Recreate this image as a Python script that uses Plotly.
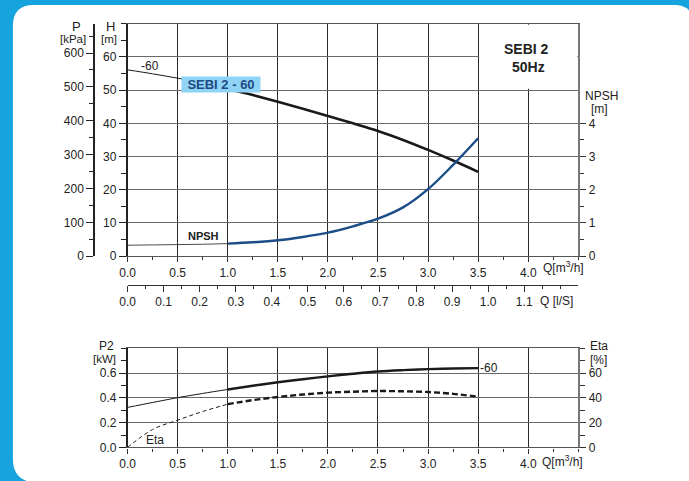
import plotly.graph_objects as go

W, HP = 689, 481

# ---------------- data ----------------
q = [0.0, 0.25, 0.5, 0.75, 1.0, 1.25, 1.5, 1.75, 2.0, 2.25, 2.5, 2.75, 3.0, 3.25, 3.5]
head_m = [56.1, 54.9, 53.6, 52.1, 50.4, 48.5, 46.5, 44.4, 42.2, 40.0, 37.7, 35.0, 32.0, 28.8, 25.4]
npsh_m = [0.33, 0.34, 0.35, 0.36, 0.38, 0.42, 0.48, 0.58, 0.71, 0.90, 1.13, 1.47, 2.02, 2.75, 3.55]
p2_kw = [0.323, 0.363, 0.402, 0.436, 0.468, 0.498, 0.526, 0.551, 0.574, 0.595, 0.613, 0.624, 0.632, 0.637, 0.640]
eta_pct = [0.0, 14.5, 22.0, 29.0, 34.9, 38.2, 40.7, 42.7, 44.2, 45.0, 45.5, 45.3, 44.7, 43.2, 41.0]

q_ticks = [0.0, 0.5, 1.0, 1.5, 2.0, 2.5, 3.0, 3.5, 4.0]
q_labels = ["0.0", "0.5", "1.0", "1.5", "2.0", "2.5", "3.0", "3.5", "4.0"]
ls_ticks = [0.0, 0.1, 0.2, 0.3, 0.4, 0.5, 0.6, 0.7, 0.8, 0.9, 1.0, 1.1]
ls_labels = ["0.0", "0.1", "0.2", "0.3", "0.4", "0.5", "0.6", "0.7", "0.8", "0.9", "1.0", "1.1"]
h_ticks = [0, 10, 20, 30, 40, 50, 60]
h_labels = ["0", "10", "20", "30", "40", "50", "60"]
p_ticks = [0, 100, 200, 300, 400, 500, 600]
p_labels = ["0", "100", "200", "300", "400", "500", "600"]
npsh_ticks = [0, 1, 2, 3, 4]
npsh_labels = ["0", "1", "2", "3", "4"]
p2_ticks = [0.0, 0.2, 0.4, 0.6]
p2_labels = ["0.0", "0.2", "0.4", "0.6"]
eta_ticks = [0, 20, 40, 60]
eta_labels = ["0", "20", "40", "60"]

Q_MAX = 4.5
H_MAX = 70.0
M3H_PER_LS = 3.6
KPA_PER_M = 9.81

FONT = "Liberation Sans, Arial, sans-serif"
TXT = "#222222"


def fx(px):
    return px / W


def fy(py):
    return 1 - py / HP


XDOM = [fx(121), fx(577)]
Y1DOM = [fy(260), fy(24)]
Y2DOM = [fy(454), fy(353.5)]

split = q.index(1.0)

fig = go.Figure()

# ----- top chart -----
fig.add_trace(go.Scatter(x=q[:split + 1], y=head_m[:split + 1], mode="lines",
                         line=dict(color="#1a1a1a", width=1, shape="spline"),
                         xaxis="x", yaxis="y", hoverinfo="skip"))
fig.add_trace(go.Scatter(x=q[split:], y=head_m[split:], mode="lines",
                         line=dict(color="#1a1a1a", width=2.6, shape="spline"),
                         xaxis="x", yaxis="y", hoverinfo="skip"))
fig.add_trace(go.Scatter(x=q[:split + 1], y=npsh_m[:split + 1], mode="lines",
                         line=dict(color="#4a4a4a", width=1, shape="spline"),
                         xaxis="x", yaxis="y3", hoverinfo="skip"))
fig.add_trace(go.Scatter(x=q[split:], y=npsh_m[split:], mode="lines",
                         line=dict(color="#1c4d88", width=2.4, shape="spline"),
                         xaxis="x", yaxis="y3", hoverinfo="skip"))
# pressure-axis carrier (head expressed in kPa)
fig.add_trace(go.Scatter(x=q, y=[h * KPA_PER_M for h in head_m], mode="lines",
                         line=dict(width=0), opacity=0,
                         xaxis="x", yaxis="y2", hoverinfo="skip"))
# l/s axis carrier (same flows expressed in l/s)
fig.add_trace(go.Scatter(x=[v / M3H_PER_LS for v in q], y=head_m, mode="lines",
                         line=dict(width=0), opacity=0,
                         xaxis="x3", yaxis="y", hoverinfo="skip"))

# ----- bottom chart -----
fig.add_trace(go.Scatter(x=q[:split + 1], y=p2_kw[:split + 1], mode="lines",
                         line=dict(color="#1a1a1a", width=1, shape="spline"),
                         xaxis="x2", yaxis="y4", hoverinfo="skip"))
fig.add_trace(go.Scatter(x=q[split:], y=p2_kw[split:], mode="lines",
                         line=dict(color="#1a1a1a", width=2.4, shape="spline"),
                         xaxis="x2", yaxis="y4", hoverinfo="skip"))
fig.add_trace(go.Scatter(x=q[:split + 1], y=eta_pct[:split + 1], mode="lines",
                         line=dict(color="#1a1a1a", width=1, dash="4px,3px", shape="spline"),
                         xaxis="x2", yaxis="y5", hoverinfo="skip"))
fig.add_trace(go.Scatter(x=q[split:], y=eta_pct[split:], mode="lines",
                         line=dict(color="#1a1a1a", width=2.4, dash="6px,3px", shape="spline"),
                         xaxis="x2", yaxis="y5", hoverinfo="skip"))

tickfont = dict(family=FONT, size=12, color=TXT)
q_minor = [round(0.25 + 0.5 * i, 2) for i in range(9)] + [4.5]

xcommon = dict(domain=XDOM, range=[0, Q_MAX], tickmode="array", tickvals=q_ticks,
               ticktext=q_labels, ticks="outside", ticklen=5, tickwidth=1, tickcolor="#333",
               showline=True, linecolor="#555", linewidth=1.3, mirror=True,
               showgrid=True, gridcolor="#2b2b2b", gridwidth=1, zeroline=False,
               tickfont=tickfont, fixedrange=True,
               minor=dict(tickvals=q_minor, ticklen=3, tickcolor="#333", showgrid=False))

fig.update_layout(
    width=W, height=HP, autosize=False,
    margin=dict(l=0, r=0, t=0, b=0),
    paper_bgcolor="#16a3de", plot_bgcolor="white",
    showlegend=False,
    font=dict(family=FONT, size=12, color=TXT),
    xaxis=dict(anchor="y", **xcommon),
    xaxis2=dict(anchor="y4", **xcommon),
    xaxis3=dict(overlaying="x", anchor="free", position=fy(289), side="bottom",
                range=[0, Q_MAX / M3H_PER_LS], tickmode="array", tickvals=ls_ticks,
                ticktext=ls_labels, ticks="outside", ticklen=6, tickcolor="#333",
                showline=True, linecolor="#333", linewidth=1.3, showgrid=False,
                zeroline=False, tickfont=tickfont, fixedrange=True,
                minor=dict(tickvals=[round(0.05 + 0.1 * i, 2) for i in range(12)] + [1.2],
                           ticklen=3, tickcolor="#333")),
    yaxis=dict(domain=Y1DOM, anchor="x", range=[0, H_MAX], tickmode="array",
               tickvals=h_ticks, ticktext=h_labels, ticks="outside", ticklen=7,
               tickcolor="#222", showline=True, linecolor="#222", linewidth=1.5, mirror=True,
               showgrid=True, gridcolor="#6a6a6a", gridwidth=1.3, zeroline=False,
               tickfont=tickfont, fixedrange=True,
               minor=dict(tickvals=[5, 15, 25, 35, 45, 55, 65, 70], ticklen=5,
                          tickcolor="#222", showgrid=False)),
    yaxis2=dict(overlaying="y", anchor="free", position=fx(87), side="left",
                range=[0, H_MAX * KPA_PER_M], tickmode="array", tickvals=p_ticks,
                ticktext=p_labels, ticks="outside", ticklen=7, tickcolor="#222",
                showline=True, linecolor="#222", linewidth=1.5, showgrid=False,
                zeroline=False, tickfont=tickfont, fixedrange=True,
                minor=dict(tickvals=[50, 150, 250, 350, 450, 550, 650], ticklen=4,
                           tickcolor="#222")),
    yaxis3=dict(overlaying="y", anchor="x", side="right", range=[0, H_MAX / 10],
                tickmode="array", tickvals=npsh_ticks, ticktext=npsh_labels,
                ticks="outside", ticklen=6, tickcolor="#333", showline=True,
                linecolor="#777", linewidth=2, showgrid=False, zeroline=False,
                tickfont=tickfont, fixedrange=True,
                minor=dict(tickvals=[0.5, 1.5, 2.5, 3.5], ticklen=4, tickcolor="#333")),
    yaxis4=dict(domain=Y2DOM, anchor="x2", range=[0, 0.8], tickmode="array",
                tickvals=p2_ticks, ticktext=p2_labels, ticks="outside", ticklen=7,
                tickcolor="#222", showline=True, linecolor="#222", linewidth=1.5, mirror=True,
                showgrid=True, gridcolor="#6a6a6a", gridwidth=1.3, zeroline=False,
                tickfont=tickfont, fixedrange=True,
                minor=dict(tickvals=[0.1, 0.3, 0.5, 0.7, 0.8], ticklen=5, tickcolor="#222",
                           showgrid=False)),
    yaxis5=dict(overlaying="y4", anchor="x2", side="right", range=[0, 80],
                tickmode="array", tickvals=eta_ticks, ticktext=eta_labels,
                ticks="outside", ticklen=6, tickcolor="#333", showline=True,
                linecolor="#777", linewidth=2, showgrid=False, zeroline=False,
                tickfont=tickfont, fixedrange=True,
                minor=dict(tickvals=[10, 30, 50, 70, 80], ticklen=5, tickcolor="#333")),
)


# ----- background frame (blue border, white rounded card) -----
def P(px, py):
    return f"{fx(px):.5f},{fy(py):.5f}"


card = (f"M {P(5, 466)} L {P(5, 26)} Q {P(5, 5)} {P(26, 5)} L {P(676, 5)} "
        f"Q {P(689, 6)} {P(692, 16)} L {P(692, 490)} L {P(28, 490)} "
        f"Q {P(5, 488)} {P(5, 466)} Z")
fig.add_shape(type="path", path=card, xref="paper", yref="paper",
              fillcolor="white", line=dict(width=0), layer="below")

# white title cell in the top-right of the head chart
fig.add_shape(type="rect", xref="x", yref="y", x0=3.51, x1=4.49, y0=50.4, y1=69.7,
              fillcolor="white", line=dict(width=0), layer="above")


def ann(text, px, py, size=12, bold=False, xanchor="center", color=TXT, **kw):
    if bold:
        text = f"<b>{text}</b>"
    fig.add_annotation(text=text, x=fx(px), y=fy(py), xref="paper", yref="paper",
                       xanchor=xanchor, yanchor="middle", showarrow=False,
                       font=dict(family=FONT, size=size, color=color), **kw)


# axis titles
ann("P", 69, 26.5, 13)
ann("[kPa]", 66, 40, 11.5)
ann("H", 104, 26.5, 13)
ann("[m]", 102, 40, 11.5)
ann("NPSH", 582, 97, 12, xanchor="left")
ann("[m]", 588, 111, 12, xanchor="left")
ann("Q[m<sup>3</sup>/h]", 562, 271, 12)
ann("Q [l/S]", 555, 305, 12)

ann("P2", 100, 351, 12)
ann("[kW]", 98, 364, 11.5)
ann("Eta", 587, 351, 12, xanchor="left")
ann("[%]", 587, 365, 12, xanchor="left")
ann("Q[m<sup>3</sup>/h]", 561, 468, 12)

# chart texts
ann("SEBI 2", 525, 50, 14, bold=True)
ann("50Hz", 527, 68, 14, bold=True)
ann("-60", 144, 67, 12)
ann("SEBI 2 - 60", 215, 86, 13, bold=True, color="#1f4a85",
    bgcolor="#8fd4f5", width=78, height=15, borderpad=0)
ann("NPSH", 198, 239, 11, bold=True)
ann("-60", 487, 373, 12)
ann("Eta", 149, 447, 12)

fig.write_html("out.html", config={"displayModeBar": False},
               post_script="document.body.style.margin='0';document.body.style.overflow='hidden';")
